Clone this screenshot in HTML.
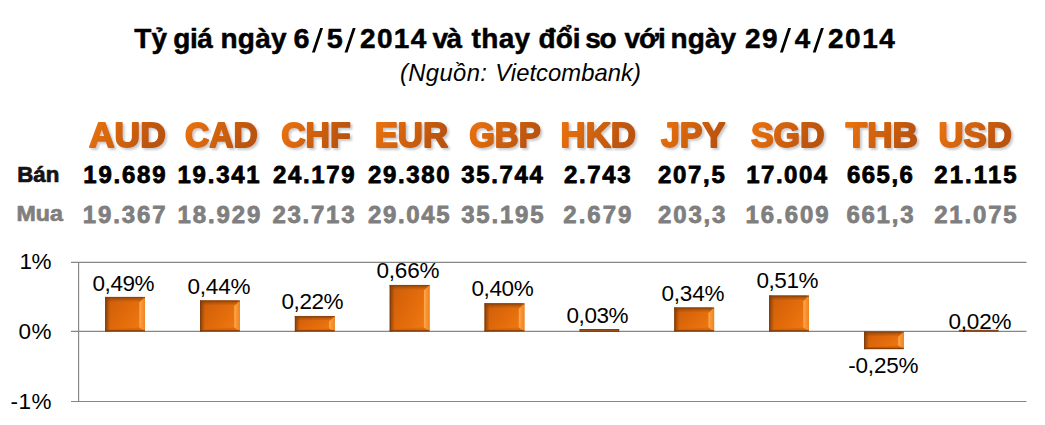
<!DOCTYPE html><html><head><meta charset="utf-8"><style>html,body{margin:0;padding:0;background:#fff;}body{width:1045px;height:425px;overflow:hidden;}svg{display:block;}text{font-family:"Liberation Sans",sans-serif;}</style></head><body><svg width="1045" height="425" viewBox="0 0 1045 425"><defs><linearGradient id="cg" x1="0" y1="0" x2="1" y2="0.3"><stop offset="0" stop-color="#ec7410"/><stop offset="1" stop-color="#b9520f"/></linearGradient><filter id="sh" x="-10%" y="-20%" width="130%" height="150%"><feGaussianBlur in="SourceAlpha" stdDeviation="1.2"/><feOffset dx="1.5" dy="1.5" result="b"/><feFlood flood-color="#7a7a7a" flood-opacity="0.4"/><feComposite in2="b" operator="in"/><feMerge><feMergeNode/><feMergeNode in="SourceGraphic"/></feMerge></filter><linearGradient id="bf" x1="0" y1="0" x2="1" y2="0.6"><stop offset="0" stop-color="#c55a08"/><stop offset="0.25" stop-color="#d5620a"/><stop offset="0.65" stop-color="#e36c0b"/><stop offset="1" stop-color="#ef7711"/></linearGradient><linearGradient id="bl" x1="0" y1="0" x2="1" y2="0"><stop offset="0" stop-color="#6a3208" stop-opacity="0.7"/><stop offset="1" stop-color="#6a3208" stop-opacity="0"/></linearGradient><linearGradient id="bt" x1="0" y1="0" x2="0" y2="1"><stop offset="0" stop-color="#7a3a08" stop-opacity="0.7"/><stop offset="1" stop-color="#7a3a08" stop-opacity="0"/></linearGradient><linearGradient id="br" x1="0" y1="0" x2="1" y2="0"><stop offset="0" stop-color="#ffac52"/><stop offset="0.35" stop-color="#f99838"/><stop offset="1" stop-color="#ee8220"/></linearGradient></defs><rect width="1045" height="425" fill="#fff"/><line x1="71" y1="262.4" x2="1026.5" y2="262.4" stroke="#868686" stroke-width="1.15"/><line x1="71" y1="331.3" x2="1026.5" y2="331.3" stroke="#868686" stroke-width="1.15"/><line x1="71" y1="401.5" x2="1026.5" y2="401.5" stroke="#868686" stroke-width="1.15"/><line x1="78.6" y1="262" x2="78.6" y2="402" stroke="#868686" stroke-width="1.15"/><rect x="105.20" y="296.95" width="39.80" height="34.55" fill="url(#bf)"/><rect x="105.20" y="296.95" width="5" height="34.55" fill="url(#bl)"/><rect x="105.20" y="296.95" width="37.80" height="5.00" fill="url(#bt)"/><polygon points="139.40,302.56 145.00,296.95 145.00,331.50 139.40,327.50" fill="url(#br)"/><polygon points="105.20,329.50 139.40,327.50 145.00,331.50 105.20,331.50" fill="#b85208" opacity="0.35"/><rect x="105.20" y="296.95" width="39.80" height="1.2" fill="#8a4510" opacity="0.9"/><rect x="105.20" y="330.10" width="39.80" height="1.4" fill="#7a3808" opacity="0.85"/><rect x="105.20" y="296.95" width="1.1" height="34.55" fill="#7a3e10" opacity="0.8"/><rect x="200.05" y="300.48" width="39.80" height="31.02" fill="url(#bf)"/><rect x="200.05" y="300.48" width="5" height="31.02" fill="url(#bl)"/><rect x="200.05" y="300.48" width="37.80" height="5.00" fill="url(#bt)"/><polygon points="234.25,306.08 239.85,300.48 239.85,331.50 234.25,327.50" fill="url(#br)"/><polygon points="200.05,329.50 234.25,327.50 239.85,331.50 200.05,331.50" fill="#b85208" opacity="0.35"/><rect x="200.05" y="300.48" width="39.80" height="1.2" fill="#8a4510" opacity="0.9"/><rect x="200.05" y="330.10" width="39.80" height="1.4" fill="#7a3808" opacity="0.85"/><rect x="200.05" y="300.48" width="1.1" height="31.02" fill="#7a3e10" opacity="0.8"/><rect x="294.90" y="315.99" width="39.80" height="15.51" fill="url(#bf)"/><rect x="294.90" y="315.99" width="5" height="15.51" fill="url(#bl)"/><rect x="294.90" y="315.99" width="37.80" height="4.65" fill="url(#bt)"/><polygon points="329.10,321.59 334.70,315.99 334.70,331.50 329.10,328.40" fill="url(#br)"/><polygon points="294.90,329.95 329.10,328.40 334.70,331.50 294.90,331.50" fill="#b85208" opacity="0.35"/><rect x="294.90" y="315.99" width="39.80" height="1.2" fill="#8a4510" opacity="0.9"/><rect x="294.90" y="330.10" width="39.80" height="1.4" fill="#7a3808" opacity="0.85"/><rect x="294.90" y="315.99" width="1.1" height="15.51" fill="#7a3e10" opacity="0.8"/><rect x="389.75" y="284.97" width="39.80" height="46.53" fill="url(#bf)"/><rect x="389.75" y="284.97" width="5" height="46.53" fill="url(#bl)"/><rect x="389.75" y="284.97" width="37.80" height="5.00" fill="url(#bt)"/><polygon points="423.95,290.57 429.55,284.97 429.55,331.50 423.95,327.50" fill="url(#br)"/><polygon points="389.75,329.50 423.95,327.50 429.55,331.50 389.75,331.50" fill="#b85208" opacity="0.35"/><rect x="389.75" y="284.97" width="39.80" height="1.2" fill="#8a4510" opacity="0.9"/><rect x="389.75" y="330.10" width="39.80" height="1.4" fill="#7a3808" opacity="0.85"/><rect x="389.75" y="284.97" width="1.1" height="46.53" fill="#7a3e10" opacity="0.8"/><rect x="484.60" y="303.30" width="39.80" height="28.20" fill="url(#bf)"/><rect x="484.60" y="303.30" width="5" height="28.20" fill="url(#bl)"/><rect x="484.60" y="303.30" width="37.80" height="5.00" fill="url(#bt)"/><polygon points="518.80,308.90 524.40,303.30 524.40,331.50 518.80,327.50" fill="url(#br)"/><polygon points="484.60,329.50 518.80,327.50 524.40,331.50 484.60,331.50" fill="#b85208" opacity="0.35"/><rect x="484.60" y="303.30" width="39.80" height="1.2" fill="#8a4510" opacity="0.9"/><rect x="484.60" y="330.10" width="39.80" height="1.4" fill="#7a3808" opacity="0.85"/><rect x="484.60" y="303.30" width="1.1" height="28.20" fill="#7a3e10" opacity="0.8"/><rect x="579.45" y="329.0" width="39.80" height="2.9" fill="#7e3c0c"/><rect x="580.45" y="329.8" width="37.80" height="1.1" fill="#a4561a" opacity="0.8"/><rect x="674.30" y="307.53" width="39.80" height="23.97" fill="url(#bf)"/><rect x="674.30" y="307.53" width="5" height="23.97" fill="url(#bl)"/><rect x="674.30" y="307.53" width="37.80" height="5.00" fill="url(#bt)"/><polygon points="708.50,313.13 714.10,307.53 714.10,331.50 708.50,327.50" fill="url(#br)"/><polygon points="674.30,329.50 708.50,327.50 714.10,331.50 674.30,331.50" fill="#b85208" opacity="0.35"/><rect x="674.30" y="307.53" width="39.80" height="1.2" fill="#8a4510" opacity="0.9"/><rect x="674.30" y="330.10" width="39.80" height="1.4" fill="#7a3808" opacity="0.85"/><rect x="674.30" y="307.53" width="1.1" height="23.97" fill="#7a3e10" opacity="0.8"/><rect x="769.15" y="295.55" width="39.80" height="35.95" fill="url(#bf)"/><rect x="769.15" y="295.55" width="5" height="35.95" fill="url(#bl)"/><rect x="769.15" y="295.55" width="37.80" height="5.00" fill="url(#bt)"/><polygon points="803.35,301.15 808.95,295.55 808.95,331.50 803.35,327.50" fill="url(#br)"/><polygon points="769.15,329.50 803.35,327.50 808.95,331.50 769.15,331.50" fill="#b85208" opacity="0.35"/><rect x="769.15" y="295.55" width="39.80" height="1.2" fill="#8a4510" opacity="0.9"/><rect x="769.15" y="330.10" width="39.80" height="1.4" fill="#7a3808" opacity="0.85"/><rect x="769.15" y="295.55" width="1.1" height="35.95" fill="#7a3e10" opacity="0.8"/><rect x="864.00" y="331.50" width="39.80" height="17.62" fill="url(#bf)"/><rect x="864.00" y="331.50" width="5" height="17.62" fill="url(#bl)"/><rect x="864.00" y="331.50" width="37.80" height="5.00" fill="url(#bt)"/><polygon points="898.20,337.10 903.80,331.50 903.80,349.12 898.20,345.60" fill="url(#br)"/><polygon points="864.00,347.36 898.20,345.60 903.80,349.12 864.00,349.12" fill="#b85208" opacity="0.35"/><rect x="864.00" y="331.50" width="39.80" height="1.2" fill="#8a4510" opacity="0.9"/><rect x="864.00" y="347.73" width="39.80" height="1.4" fill="#7a3808" opacity="0.85"/><rect x="864.00" y="331.50" width="1.1" height="17.62" fill="#7a3e10" opacity="0.8"/><rect x="958.85" y="329.8" width="39.80" height="2.0" fill="#85461a"/><polygon points="320.15,28.0 323.05,28.0 314.85,52.4 311.95,52.4" fill="#000"/><polygon points="352.75,28.0 355.65,28.0 347.45,52.4 344.55,52.4" fill="#000"/><polygon points="788.15,28.0 791.05,28.0 782.85,52.4 779.95,52.4" fill="#000"/><polygon points="820.95,28.0 823.85,28.0 815.65,52.4 812.75,52.4" fill="#000"/><text x="134.20" y="48.10" font-size="28.00" font-weight="bold" fill="#000" stroke="#000" stroke-width="0.50" stroke-linejoin="round" textLength="32.90" lengthAdjust="spacing">Tỷ</text><text x="173.20" y="48.10" font-size="28.00" font-weight="bold" fill="#000" stroke="#000" stroke-width="0.50" stroke-linejoin="round" textLength="39.60" lengthAdjust="spacing">giá</text><text x="220.40" y="48.10" font-size="28.00" font-weight="bold" fill="#000" stroke="#000" stroke-width="0.50" stroke-linejoin="round" textLength="66.20" lengthAdjust="spacing">ngày</text><text x="293.52" y="48.10" font-size="28.00" font-weight="bold" fill="#000" stroke="#000" stroke-width="0.50" stroke-linejoin="round" textLength="16.02" lengthAdjust="spacingAndGlyphs">6</text><text x="326.68" y="48.10" font-size="28.00" font-weight="bold" fill="#000" stroke="#000" stroke-width="0.50" stroke-linejoin="round" textLength="16.02" lengthAdjust="spacingAndGlyphs">5</text><text x="360.02" y="48.10" font-size="28.00" font-weight="bold" fill="#000" stroke="#000" stroke-width="0.50" stroke-linejoin="round" textLength="66.32" lengthAdjust="spacing">2014</text><text x="432.60" y="48.10" font-size="28.00" font-weight="bold" fill="#000" stroke="#000" stroke-width="0.50" stroke-linejoin="round" textLength="29.60" lengthAdjust="spacing">và</text><text x="471.60" y="48.10" font-size="28.00" font-weight="bold" fill="#000" stroke="#000" stroke-width="0.50" stroke-linejoin="round" textLength="58.60" lengthAdjust="spacing">thay</text><text x="538.60" y="48.10" font-size="28.00" font-weight="bold" fill="#000" stroke="#000" stroke-width="0.50" stroke-linejoin="round" textLength="42.00" lengthAdjust="spacing">đổi</text><text x="585.30" y="48.10" font-size="28.00" font-weight="bold" fill="#000" stroke="#000" stroke-width="0.50" stroke-linejoin="round" textLength="31.30" lengthAdjust="spacing">so</text><text x="624.50" y="48.10" font-size="28.00" font-weight="bold" fill="#000" stroke="#000" stroke-width="0.50" stroke-linejoin="round" textLength="41.20" lengthAdjust="spacing">với</text><text x="670.50" y="48.10" font-size="28.00" font-weight="bold" fill="#000" stroke="#000" stroke-width="0.50" stroke-linejoin="round" textLength="65.70" lengthAdjust="spacing">ngày</text><text x="745.02" y="48.10" font-size="28.00" font-weight="bold" fill="#000" stroke="#000" stroke-width="0.50" stroke-linejoin="round" textLength="32.52" lengthAdjust="spacing">29</text><text x="794.72" y="48.10" font-size="28.00" font-weight="bold" fill="#000" stroke="#000" stroke-width="0.50" stroke-linejoin="round" textLength="15.44" lengthAdjust="spacingAndGlyphs">4</text><text x="828.02" y="48.10" font-size="28.00" font-weight="bold" fill="#000" stroke="#000" stroke-width="0.50" stroke-linejoin="round" textLength="66.84" lengthAdjust="spacing">2014</text><text x="399.92" y="80.80" font-size="23.80" font-weight="normal" fill="#000" font-style="italic" textLength="86.98" lengthAdjust="spacing">(Nguồn:</text><text x="495.30" y="80.80" font-size="23.80" font-weight="normal" fill="#000" font-style="italic" textLength="145.64" lengthAdjust="spacing">Vietcombank)</text><text x="89.05" y="147.30" font-size="34.60" font-weight="bold" fill="url(#cg)" stroke="url(#cg)" stroke-width="1.80" stroke-linejoin="round" textLength="76.65" lengthAdjust="spacingAndGlyphs" filter="url(#sh)">AUD</text><text x="185.05" y="147.30" font-size="34.60" font-weight="bold" fill="url(#cg)" stroke="url(#cg)" stroke-width="1.80" stroke-linejoin="round" textLength="72.65" lengthAdjust="spacingAndGlyphs" filter="url(#sh)">CAD</text><text x="281.14" y="147.30" font-size="34.60" font-weight="bold" fill="url(#cg)" stroke="url(#cg)" stroke-width="1.80" stroke-linejoin="round" textLength="69.56" lengthAdjust="spacingAndGlyphs" filter="url(#sh)">CHF</text><text x="374.71" y="147.30" font-size="34.60" font-weight="bold" fill="url(#cg)" stroke="url(#cg)" stroke-width="1.80" stroke-linejoin="round" textLength="73.35" lengthAdjust="spacingAndGlyphs" filter="url(#sh)">EUR</text><text x="469.20" y="147.30" font-size="34.60" font-weight="bold" fill="url(#cg)" stroke="url(#cg)" stroke-width="1.80" stroke-linejoin="round" textLength="71.50" lengthAdjust="spacingAndGlyphs" filter="url(#sh)">GBP</text><text x="560.62" y="147.30" font-size="34.60" font-weight="bold" fill="url(#cg)" stroke="url(#cg)" stroke-width="1.80" stroke-linejoin="round" textLength="75.23" lengthAdjust="spacingAndGlyphs" filter="url(#sh)">HKD</text><text x="660.90" y="147.30" font-size="34.60" font-weight="bold" fill="url(#cg)" stroke="url(#cg)" stroke-width="1.80" stroke-linejoin="round" textLength="64.25" lengthAdjust="spacingAndGlyphs" filter="url(#sh)">JPY</text><text x="750.90" y="147.30" font-size="34.60" font-weight="bold" fill="url(#cg)" stroke="url(#cg)" stroke-width="1.80" stroke-linejoin="round" textLength="73.68" lengthAdjust="spacingAndGlyphs" filter="url(#sh)">SGD</text><text x="845.75" y="147.30" font-size="34.60" font-weight="bold" fill="url(#cg)" stroke="url(#cg)" stroke-width="1.80" stroke-linejoin="round" textLength="71.95" lengthAdjust="spacingAndGlyphs" filter="url(#sh)">THB</text><text x="938.50" y="147.30" font-size="34.60" font-weight="bold" fill="url(#cg)" stroke="url(#cg)" stroke-width="1.80" stroke-linejoin="round" textLength="73.32" lengthAdjust="spacingAndGlyphs" filter="url(#sh)">USD</text><text x="17.26" y="181.70" font-size="21.50" font-weight="bold" fill="#141414" stroke="#141414" stroke-width="0.70" stroke-linejoin="round" textLength="42.08" lengthAdjust="spacingAndGlyphs">Bán</text><text x="16.56" y="221.40" font-size="21.50" font-weight="bold" fill="#7f7f7f" stroke="#7f7f7f" stroke-width="0.70" stroke-linejoin="round" textLength="46.35" lengthAdjust="spacingAndGlyphs">Mua</text><text x="83.35" y="183.20" font-size="24.00" font-weight="bold" fill="#000" stroke="#000" stroke-width="0.80" stroke-linejoin="round" textLength="82.20" lengthAdjust="spacing">19.689</text><text x="177.50" y="183.20" font-size="24.00" font-weight="bold" fill="#000" stroke="#000" stroke-width="0.80" stroke-linejoin="round" textLength="82.20" lengthAdjust="spacing">19.341</text><text x="273.08" y="183.20" font-size="24.00" font-weight="bold" fill="#000" stroke="#000" stroke-width="0.80" stroke-linejoin="round" textLength="81.50" lengthAdjust="spacing">24.179</text><text x="368.11" y="183.20" font-size="24.00" font-weight="bold" fill="#000" stroke="#000" stroke-width="0.80" stroke-linejoin="round" textLength="81.59" lengthAdjust="spacing">29.380</text><text x="461.14" y="183.20" font-size="24.00" font-weight="bold" fill="#000" stroke="#000" stroke-width="0.80" stroke-linejoin="round" textLength="81.77" lengthAdjust="spacing">35.744</text><text x="564.05" y="183.20" font-size="24.00" font-weight="bold" fill="#000" stroke="#000" stroke-width="0.80" stroke-linejoin="round" textLength="66.65" lengthAdjust="spacing">2.743</text><text x="658.11" y="183.20" font-size="24.00" font-weight="bold" fill="#000" stroke="#000" stroke-width="0.80" stroke-linejoin="round" textLength="66.65" lengthAdjust="spacing">207,5</text><text x="746.29" y="183.20" font-size="24.00" font-weight="bold" fill="#000" stroke="#000" stroke-width="0.80" stroke-linejoin="round" textLength="80.80" lengthAdjust="spacing">17.004</text><text x="847.08" y="183.20" font-size="24.00" font-weight="bold" fill="#000" stroke="#000" stroke-width="0.80" stroke-linejoin="round" textLength="65.74" lengthAdjust="spacing">665,6</text><text x="934.20" y="183.20" font-size="24.00" font-weight="bold" fill="#000" stroke="#000" stroke-width="0.80" stroke-linejoin="round" textLength="82.50" lengthAdjust="spacing">21.115</text><text x="82.65" y="222.70" font-size="24.00" font-weight="bold" fill="#7f7f7f" stroke="#7f7f7f" stroke-width="0.80" stroke-linejoin="round" textLength="82.90" lengthAdjust="spacing">19.367</text><text x="177.50" y="222.70" font-size="24.00" font-weight="bold" fill="#7f7f7f" stroke="#7f7f7f" stroke-width="0.80" stroke-linejoin="round" textLength="82.90" lengthAdjust="spacing">18.929</text><text x="272.38" y="222.70" font-size="24.00" font-weight="bold" fill="#7f7f7f" stroke="#7f7f7f" stroke-width="0.80" stroke-linejoin="round" textLength="82.20" lengthAdjust="spacing">23.713</text><text x="368.11" y="222.70" font-size="24.00" font-weight="bold" fill="#7f7f7f" stroke="#7f7f7f" stroke-width="0.80" stroke-linejoin="round" textLength="81.59" lengthAdjust="spacing">29.045</text><text x="461.14" y="222.70" font-size="24.00" font-weight="bold" fill="#7f7f7f" stroke="#7f7f7f" stroke-width="0.80" stroke-linejoin="round" textLength="82.47" lengthAdjust="spacing">35.195</text><text x="563.35" y="222.70" font-size="24.00" font-weight="bold" fill="#7f7f7f" stroke="#7f7f7f" stroke-width="0.80" stroke-linejoin="round" textLength="68.05" lengthAdjust="spacing">2.679</text><text x="658.11" y="222.70" font-size="24.00" font-weight="bold" fill="#7f7f7f" stroke="#7f7f7f" stroke-width="0.80" stroke-linejoin="round" textLength="67.35" lengthAdjust="spacing">203,3</text><text x="745.59" y="222.70" font-size="24.00" font-weight="bold" fill="#7f7f7f" stroke="#7f7f7f" stroke-width="0.80" stroke-linejoin="round" textLength="82.90" lengthAdjust="spacing">16.609</text><text x="846.38" y="222.70" font-size="24.00" font-weight="bold" fill="#7f7f7f" stroke="#7f7f7f" stroke-width="0.80" stroke-linejoin="round" textLength="67.14" lengthAdjust="spacing">661,3</text><text x="934.20" y="222.70" font-size="24.00" font-weight="bold" fill="#7f7f7f" stroke="#7f7f7f" stroke-width="0.80" stroke-linejoin="round" textLength="82.50" lengthAdjust="spacing">21.075</text><text x="19.50" y="268.80" font-size="22.50" font-weight="normal" fill="#000" textLength="32.08" lengthAdjust="spacing">1%</text><text x="18.38" y="338.70" font-size="22.50" font-weight="normal" fill="#000" textLength="33.08" lengthAdjust="spacing">0%</text><text x="10.50" y="408.70" font-size="22.50" font-weight="normal" fill="#000" textLength="40.96" lengthAdjust="spacing">-1%</text><text x="92.47" y="290.70" font-size="22.50" font-weight="normal" fill="#000" textLength="62.17" lengthAdjust="spacing">0,49%</text><text x="187.44" y="293.50" font-size="22.50" font-weight="normal" fill="#000" textLength="63.05" lengthAdjust="spacing">0,44%</text><text x="281.47" y="309.40" font-size="22.50" font-weight="normal" fill="#000" textLength="62.14" lengthAdjust="spacing">0,22%</text><text x="376.47" y="278.30" font-size="22.50" font-weight="normal" fill="#000" textLength="62.99" lengthAdjust="spacing">0,66%</text><text x="471.38" y="296.30" font-size="22.50" font-weight="normal" fill="#000" textLength="62.29" lengthAdjust="spacing">0,40%</text><text x="566.50" y="322.60" font-size="22.50" font-weight="normal" fill="#000" textLength="62.14" lengthAdjust="spacing">0,03%</text><text x="661.47" y="300.50" font-size="22.50" font-weight="normal" fill="#000" textLength="62.99" lengthAdjust="spacing">0,34%</text><text x="756.38" y="288.10" font-size="22.50" font-weight="normal" fill="#000" textLength="62.14" lengthAdjust="spacing">0,51%</text><text x="848.26" y="372.50" font-size="22.50" font-weight="normal" fill="#000" textLength="70.23" lengthAdjust="spacing">-0,25%</text><text x="948.47" y="328.70" font-size="22.50" font-weight="normal" fill="#000" textLength="62.99" lengthAdjust="spacing">0,02%</text></svg></body></html>
